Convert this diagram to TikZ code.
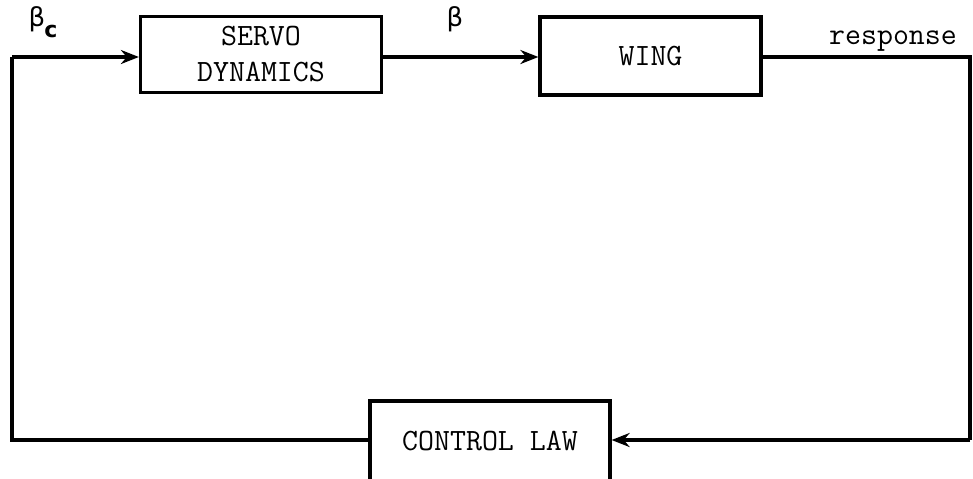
\documentclass[tikz,border=0pt]{standalone}
\usepackage{fontspec}
\newfontfamily\grk{DejaVu Sans}
\usetikzlibrary{arrows.meta}
\begin{document}
\begin{tikzpicture}[x=0.5pt,y=-0.5pt,
  blk/.style={draw,line width=1.6pt,inner sep=0pt,font=\ttfamily\fontsize{15.5}{18}\selectfont,align=center},
  conn/.style={line width=1.6pt},
  arr/.style={conn,-{Stealth[length=9pt,width=7pt]}},
  lbl/.style={font=\ttfamily\fontsize{15.5}{18}\selectfont,inner sep=0pt}]
\useasboundingbox (0,0) rectangle (973,478);
\node[blk,minimum width=120.5pt,minimum height=38pt] (servo) at (261,54.5) {SERVO\\DYNAMICS};
\node[blk,minimum width=110.5pt,minimum height=39pt] (wing) at (650.5,56) {WING};
\node[blk,minimum width=120pt,minimum height=40pt] (law) at (490,441) {CONTROL LAW};
\coordinate (tl) at (12,57);
\coordinate (bl) at (12,440);
\coordinate (tr) at (970,57);
\coordinate (br) at (970,440);
\draw[arr] (tl) -- (servo.west |- tl);
\draw[arr] (servo.east |- tl) -- (wing.west |- tl);
\draw[conn] (wing.east |- tr) -- (tr) -- (br);
\draw[arr] (br) -- (law.east |- br);
\draw[conn] (law.west |- bl) -- (bl) -- (tl);
\node[lbl,font=\grk\fontsize{13}{15}\selectfont] (bc) at (37,19) {β};
\node[lbl,font=\grk\bfseries\fontsize{11}{13}\selectfont] (c) at (51,31) {c};
\node[lbl,font=\grk\fontsize{13}{15}\selectfont] (b) at (455,19) {β};
\node[lbl] (resp) at (893,41) {response};
\end{tikzpicture}
\end{document}
